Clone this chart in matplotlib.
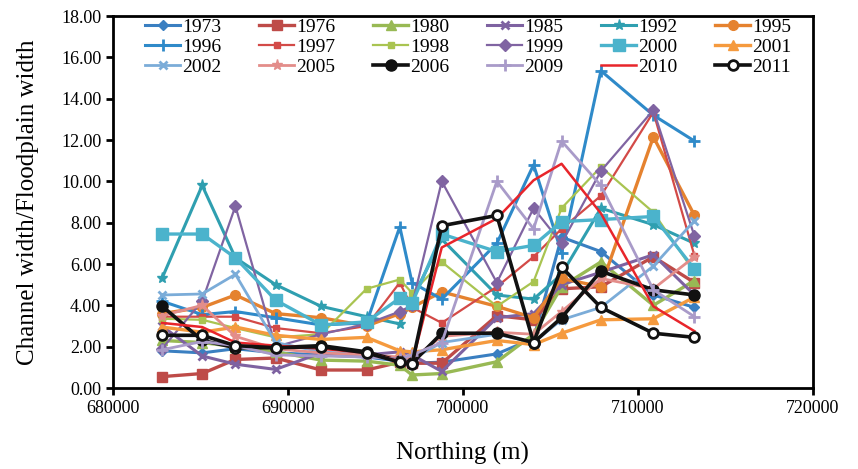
import matplotlib
matplotlib.use("Agg")
import matplotlib.pyplot as plt
from matplotlib.ticker import FormatStrFormatter

plt.rcParams['font.family'] = ['Liberation Serif', 'DejaVu Serif']

# Northing of the cross sections (m)
northing = [682800, 685100, 687000, 689300, 691900, 694500, 696400, 697100,
            698800, 701950, 704050, 705650, 707900, 710900, 713250]

# Channel width / floodplain width per year
y1973 = [1.80, 1.70, 1.90, 1.70, 1.60, 1.50, 1.30, 1.20, 1.25, 1.65, 2.40, 7.30, 6.60, 4.50, 3.90]
y1976 = [0.55, 0.70, 1.38, 1.45, 0.87, 0.87, 1.25, 1.20, 1.20, 3.50, 3.30, 4.80, 4.90, 6.35, 5.10]
y1980 = [2.30, 2.20, 2.00, 1.75, 1.35, 1.30, 1.10, 0.63, 0.70, 1.27, 2.60, 4.90, 6.10, 4.00, 5.20]
y1985 = [3.00, 1.55, 1.15, 0.90, 1.70, 1.60, 1.75, 1.60, 0.80, 3.40, 3.60, 5.00, 5.60, 6.45, 4.50]
y1992 = [5.30, 9.80, 6.30, 5.00, 3.95, 3.45, 3.10, 4.30, 7.20, 4.50, 4.30, 5.50, 8.70, 7.90, 7.00]
y1995 = [3.60, 3.90, 4.50, 3.60, 3.40, 3.00, 3.60, 3.90, 4.65, 3.95, 3.40, 5.30, 4.90, 12.15, 8.35]
y1996 = [4.20, 3.55, 3.70, 3.40, 3.05, 3.15, 7.80, 5.10, 4.30, 7.00, 10.80, 6.55, 15.35, 13.20, 11.95]
y1997 = [3.45, 3.45, 3.45, 2.90, 2.65, 3.00, 5.10, 3.90, 3.15, 4.90, 6.35, 7.70, 9.30, 13.35, 6.40]
y1998 = [3.35, 3.30, 2.90, 2.45, 2.60, 4.80, 5.25, 4.60, 6.10, 3.95, 5.15, 8.70, 10.70, 8.50, 5.60]
y1999 = [1.90, 4.20, 8.80, 2.00, 2.60, 3.10, 3.70, 4.00, 10.00, 5.10, 8.70, 7.00, 10.50, 13.45, 7.35]
y2000 = [7.45, 7.45, 6.30, 4.25, 3.05, 3.20, 4.35, 4.10, 7.45, 6.60, 6.90, 8.05, 8.15, 8.30, 5.75]
y2001 = [2.95, 2.70, 2.95, 2.55, 2.35, 2.45, 1.80, 1.75, 1.85, 2.30, 2.10, 2.65, 3.30, 3.35, 4.40]
y2002 = [4.50, 4.55, 5.50, 2.20, 1.75, 1.60, 1.40, 1.40, 2.20, 2.60, 2.20, 3.30, 3.90, 5.90, 8.10]
y2005 = [3.50, 4.00, 2.50, 1.90, 1.70, 1.60, 1.50, 1.40, 2.50, 2.70, 2.60, 3.70, 5.30, 4.80, 6.35]
y2006 = [3.97, 2.30, 1.95, 1.95, 2.05, 1.75, 1.30, 1.20, 2.65, 2.65, 2.20, 3.40, 5.65, 4.75, 4.50]
y2009 = [1.85, 2.25, 2.05, 1.60, 1.55, 1.50, 1.40, 1.60, 2.20, 10.00, 7.70, 11.95, 9.80, 4.75, 3.45]
y2010 = [3.15, 2.95, 2.20, 2.05, 1.90, 1.70, 1.30, 1.20, 6.80, 8.20, 10.05, 10.85, 8.45, 3.95, 2.75]
y2011 = [2.55, 2.55, 2.05, 1.95, 2.00, 1.70, 1.25, 1.15, 7.85, 8.35, 2.20, 5.85, 3.90, 2.65, 2.45]

years = ['1973', '1976', '1980', '1985', '1992', '1995',
         '1996', '1997', '1998', '1999', '2000', '2001',
         '2002', '2005', '2006', '2009', '2010', '2011']
values = [y1973, y1976, y1980, y1985, y1992, y1995,
          y1996, y1997, y1998, y1999, y2000, y2001,
          y2002, y2005, y2006, y2009, y2010, y2011]

# color, marker, markersize, linewidth
styles = {
    '1973': ('#3a7fc1', 'D', 5, 2.2),
    '1976': ('#be4b48', 's', 7, 2.4),
    '1980': ('#98b954', '^', 7, 2.4),
    '1985': ('#7e62a1', 'x', 6, 2.2),
    '1992': ('#2f9fb0', '*', 8, 2.2),
    '1995': ('#e5822f', 'o', 7, 2.4),
    '1996': ('#2f8ac9', '+', 8, 2.2),
    '1997': ('#d34a47', 's', 4, 1.6),
    '1998': ('#a9c451', 's', 5, 1.6),
    '1999': ('#8064a2', 'D', 6, 1.6),
    '2000': ('#4bb3cc', 's', 9, 2.4),
    '2001': ('#f59a3e', '^', 7, 2.4),
    '2002': ('#7bacd8', 'x', 6, 2.0),
    '2005': ('#e38d8a', '*', 8, 2.0),
    '2006': ('#111111', 'o', 8, 2.6),
    '2009': ('#a99bc9', '+', 8, 2.0),
    '2010': ('#e8252b', None, 0, 1.8),
    '2011': ('#111111', 'o', 7, 2.6),
}

fig = plt.figure(figsize=(8.58, 4.69), dpi=100)
ax = fig.add_axes([113 / 858, 1 - 388 / 469, 699.5 / 858, 372 / 469])

handles = []
for yr, vals in zip(years, values):
    c, m, ms, lw = styles[yr]
    kw = dict(color=c, lw=lw, label=yr)
    if m is not None:
        kw.update(marker=m, ms=ms, mec=c, mfc=c)
        if m in ('x', '+'):
            kw.update(mew=2)
    if yr == '2011':
        kw.update(mfc='white', mew=2)
    h, = ax.plot(northing, vals, **kw)
    handles.append(h)

ax.set_xlim(680000, 720000)
ax.set_ylim(0, 18)
ax.set_xticks([680000, 690000, 700000, 710000, 720000])
ax.set_yticks(range(0, 19, 2))
ax.yaxis.set_major_formatter(FormatStrFormatter('%.2f'))
ax.tick_params(direction='out', length=5, width=2, labelsize=13)
for s in ax.spines.values():
    s.set_linewidth(2)

ax.set_xlabel('Northing (m)', fontsize=18, labelpad=18)
ax.set_ylabel('Channel width/Floodplain width', fontsize=18, labelpad=16)

# legend fills column-wise, so reorder to read row by row
ncol, nrow = 6, 3
order = [r * ncol + c for c in range(ncol) for r in range(nrow)]
ax.legend([handles[i] for i in order], [years[i] for i in order],
          ncol=ncol, loc='upper left', bbox_to_anchor=(0.046, 0.994),
          frameon=False, fontsize=14, borderpad=0, labelspacing=0.13,
          handlelength=1.8, handletextpad=0.1, columnspacing=1.95,
          borderaxespad=0)

fig.savefig('out.png', dpi=100)
